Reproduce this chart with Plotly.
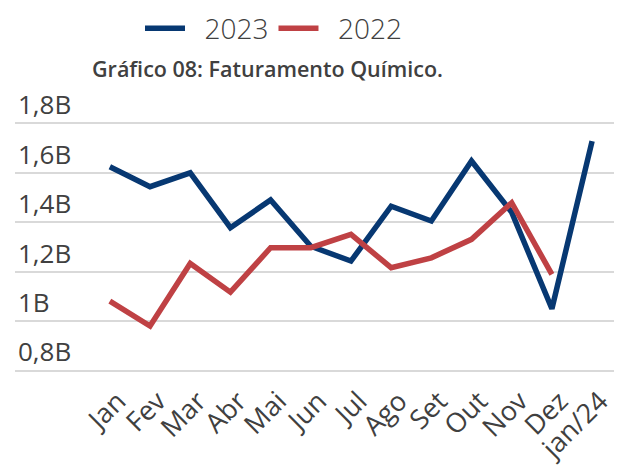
import plotly.graph_objects as go

months = ["Jan", "Fev", "Mar", "Abr", "Mai", "Jun", "Jul", "Ago", "Set", "Out", "Nov", "Dez", "jan/24"]
v2023 = [1.625, 1.544, 1.60, 1.378, 1.49, 1.303, 1.243, 1.465, 1.405, 1.648, 1.44, 1.05, 1.728]
v2022 = [1.081, 0.98, 1.233, 1.117, 1.297, 1.297, 1.351, 1.216, 1.256, 1.331, 1.479, 1.189]
yticks = [0.8, 1.0, 1.2, 1.4, 1.6, 1.8]
ylabels = ["0,8B", "1B", "1,2B", "1,4B", "1,6B", "1,8B"]

BLUE = "#073872"
RED = "#bf4144"
GRAY = "#404040"

# the page body adds an 8px offset, so the figure is drawn 8px smaller
W, H = 614, 464
# pixel geometry (figure coords): 1.8 -> y=115.5, 0.8 -> y=362.5
PX_PER_UNIT = 247.0
Y_LO, Y_HI = 0.79, 2.0
top_m = 115.5 - (Y_HI - 1.8) * PX_PER_UNIT
bot_m = H - (362.5 + (0.8 - Y_LO) * PX_PER_UNIT)

fig = go.Figure()
fig.add_trace(go.Scatter(x=months, y=v2023, mode="lines", name="\u00a0\u00a02023",
                         line=dict(color=BLUE, width=5.5)))
fig.add_trace(go.Scatter(x=months[:12], y=v2022, mode="lines", name="\u00a0\u00a02022",
                         line=dict(color=RED, width=5.5)))

fig.update_layout(
    width=W, height=H,
    margin=dict(l=7, r=7, t=top_m, b=bot_m, autoexpand=False),
    paper_bgcolor="white", plot_bgcolor="white",
    showlegend=True,
    legend=dict(orientation="h", x=132 / W, xanchor="left", y=1 - 20.5 / H, yanchor="middle",
                xref="container", yref="container",
                font=dict(family="Open Sans", size=28, color=GRAY, weight=300),
                itemwidth=40),
    title=dict(text="Gráfico 08: Faturamento Químico.", x=259.5 / W, xanchor="center",
               xref="container", y=1 - 61 / H, yanchor="middle", yref="container",
               font=dict(family="Open Sans", size=21.5, color=GRAY, weight=600)),
    xaxis=dict(type="category", range=[-2.36, 12.57], showgrid=False, automargin=False,
               tickangle=-45, tickfont=dict(family="Open Sans", size=27, color=GRAY),
               ticklabelstandoff=6, ticklabelshift=8, showline=False, ticks=""),
    yaxis=dict(range=[Y_LO, Y_HI], tickvals=yticks, ticktext=ylabels, automargin=False,
               ticklabelposition="inside top",
               tickfont=dict(family="Open Sans", size=26, color=GRAY),
               showgrid=True, gridcolor="#d9d9d9", gridwidth=2,
               zeroline=False, showline=False),
)

fig.write_html("out.html")
